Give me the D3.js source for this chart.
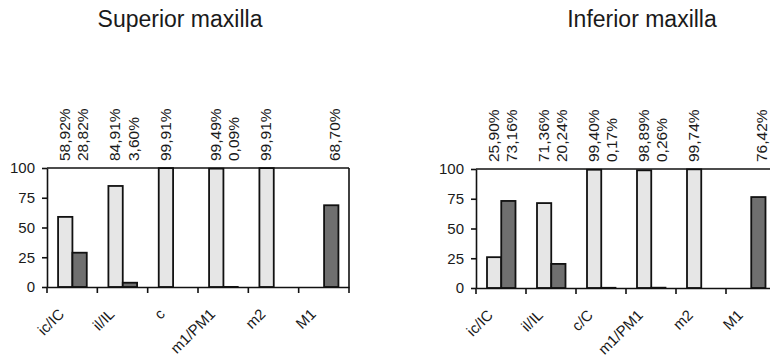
<!DOCTYPE html>
<html>
<head>
<meta charset="utf-8">
<script src="https://cdn.jsdelivr.net/npm/d3@7"></script>
<style>
  html, body { margin: 0; padding: 0; background: #fff; }
  svg { display: block; }
  text { font-family: "Liberation Sans", Arial, sans-serif; fill: #1a1a1a; }
</style>
</head>
<body>
<svg id="chart" width="770" height="358"></svg>
<script>
// ---- data ----
const supCategories = ["ic/IC", "il/IL", "c", "m1/PM1", "m2", "M1"];
const supLight = [58.92, 84.91, 99.91, 99.49, 99.91, null];
const supDark  = [28.82, 3.60, null, 0.09, null, 68.70];

const infCategories = ["ic/IC", "il/IL", "c/C", "m1/PM1", "m2", "M1"];
const infLight = [25.90, 71.36, 99.40, 98.89, 99.74, null];
const infDark  = [73.16, 20.24, 0.17, 0.26, null, 76.42];

const yTicks = [0, 25, 50, 75, 100];
const titles = ["Superior maxilla", "Inferior maxilla"];
const seriesKeys = ["light", "dark"];

const fmt = v => v.toFixed(2).replace(".", ",") + "%";

const svg = d3.select("#chart");

function drawPanel(cfg) {
  const { categories, light, dark, title, x0r, y0r, titleX } = cfg;
  const g = svg.append("g");

  const x0 = d3.scaleBand().domain(categories).range(x0r).padding(0);
  const bw = x0.bandwidth();
  const x1 = d3.scaleBand().domain(seriesKeys).range([bw * 0.22, bw * 0.79]).padding(0);
  const y = d3.scaleLinear().domain([0, 100]).range(y0r);

  // title
  g.append("text")
    .attr("x", titleX).attr("y", 27)
    .attr("text-anchor", "middle")
    .style("font-size", "23px")
    .text(title);

  const rows = categories.map((c, i) => ({ cat: c, light: light[i], dark: dark[i] }));
  const bars = [];
  rows.forEach(r => seriesKeys.forEach(k => {
    if (r[k] !== null) bars.push({ cat: r.cat, key: k, value: r[k] });
  }));

  // bars
  g.selectAll("rect.bar").data(bars).join("rect")
    .attr("class", "bar")
    .attr("x", d => x0(d.cat) + x1(d.key))
    .attr("width", x1.bandwidth())
    .attr("y", d => y(d.value))
    .attr("height", d => y(0) - y(d.value))
    .attr("fill", d => d.key === "light" ? "#e6e6e6" : "#6f6f6f")
    .attr("stroke", "#111")
    .attr("stroke-width", 1.8);

  // value labels (rotated)
  g.selectAll("text.val").data(bars).join("text")
    .attr("class", "val")
    .attr("transform", d => `translate(${x0(d.cat) + x1(d.key) + x1.bandwidth() / 2 + (d.key === "dark" ? 3 : -1)},${y(100) - 7}) rotate(-90)`)
    .attr("dy", "0.36em")
    .attr("text-anchor", "start")
    .style("font-size", "15.5px")
    .text(d => fmt(d.value));

  // y axis
  const yAxis = d3.axisLeft(y).tickValues(yTicks).tickSizeInner(5).tickSizeOuter(0).tickPadding(7);
  const ya = g.append("g").attr("transform", `translate(${x0r[0]},0)`).call(yAxis);
  ya.select(".domain").attr("stroke", "#111").attr("stroke-width", 1.6);
  ya.selectAll(".tick line").attr("stroke", "#111").attr("stroke-width", 1.6);
  ya.selectAll(".tick text").style("font-size", "15px").attr("fill", "#1a1a1a")
    .style("font-family", '"Liberation Sans", Arial, sans-serif');

  // x axis: labels
  const xAxis = d3.axisBottom(x0).tickSize(0).tickFormat("");
  const xa = g.append("g").attr("transform", `translate(0,${y(0)})`).call(xAxis);
  xa.select(".domain").attr("stroke", "#111").attr("stroke-width", 1.6);

  g.selectAll("text.xl").data(categories).join("text")
    .attr("class", "xl")
    .attr("transform", d => `translate(${x0(d) + bw / 2 - 7},${y(0) + 28}) rotate(-45)`)
    .attr("text-anchor", "end")
    .style("font-size", "15px")
    .text(d => d);

  // boundary ticks along the bottom
  const bounds = categories.map(c => x0(c)).concat([x0r[1]]);
  g.selectAll("line.bt").data(bounds).join("line")
    .attr("class", "bt")
    .attr("x1", d => d).attr("x2", d => d)
    .attr("y1", y(0)).attr("y2", y(0) + 6)
    .attr("stroke", "#111").attr("stroke-width", 1.6);

  // top line and right frame
  g.append("line")
    .attr("x1", x0r[0]).attr("x2", x0r[1])
    .attr("y1", y(100)).attr("y2", y(100))
    .attr("stroke", "#111").attr("stroke-width", 1.6);
  g.append("line")
    .attr("x1", x0r[1]).attr("x2", x0r[1])
    .attr("y1", y(100)).attr("y2", y(0))
    .attr("stroke", "#111").attr("stroke-width", 1.6);
}

drawPanel({ categories: supCategories, light: supLight, dark: supDark, title: titles[0],
  x0r: [47, 349], y0r: [287, 168], titleX: 180 });
drawPanel({ categories: infCategories, light: infLight, dark: infDark, title: titles[1],
  x0r: [476, 776], y0r: [288, 169], titleX: 642 });
</script>
</body>
</html>
